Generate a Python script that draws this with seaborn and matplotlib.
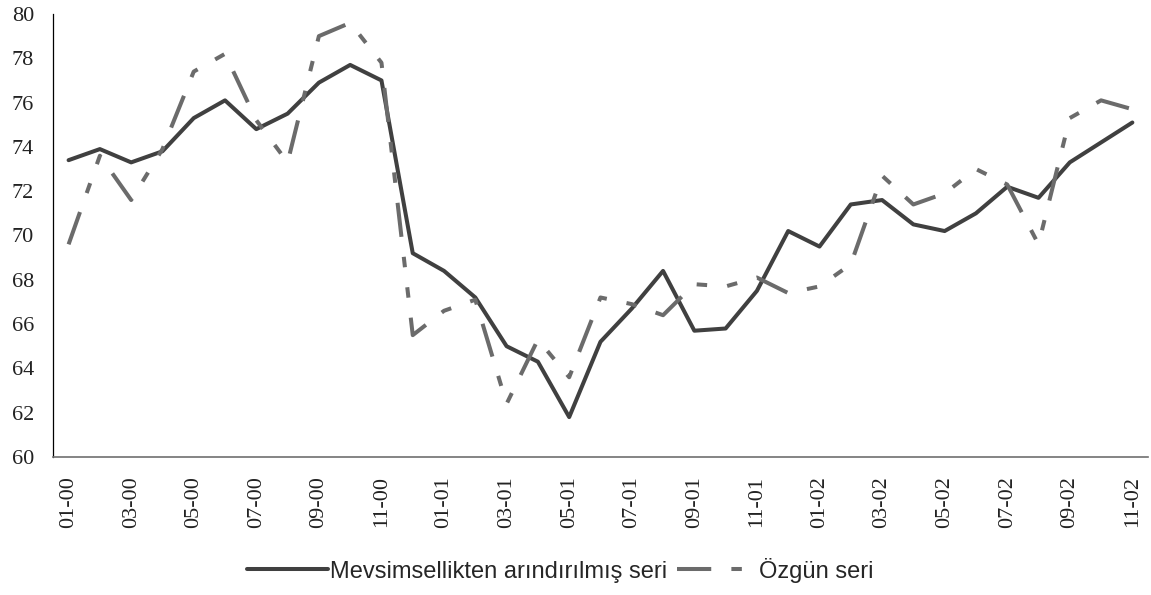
import pandas as pd
import seaborn as sns
import matplotlib
matplotlib.use('Agg')
import matplotlib.pyplot as plt

# aylar: 01-00 ... 11-02
months = ['01-00', '02-00', '03-00', '04-00', '05-00', '06-00', '07-00', '08-00', '09-00', '10-00', '11-00', '12-00',
          '01-01', '02-01', '03-01', '04-01', '05-01', '06-01', '07-01', '08-01', '09-01', '10-01', '11-01', '12-01',
          '01-02', '02-02', '03-02', '04-02', '05-02', '06-02', '07-02', '08-02', '09-02', '10-02', '11-02']

seasonal_adj = [73.4, 73.9, 73.3, 73.8, 75.3, 76.1, 74.8, 75.5, 76.9, 77.7, 77.0, 69.2,
                68.4, 67.2, 65.0, 64.3, 61.8, 65.2, 66.7, 68.4, 65.7, 65.8, 67.5, 70.2,
                69.5, 71.4, 71.6, 70.5, 70.2, 71.0, 72.2, 71.7, 73.3, 74.2, 75.1]

original = [69.6, 73.6, 71.6, 73.9, 77.4, 78.2, 75.2, 73.3, 79.0, 79.6, 77.8, 65.5,
            66.6, 67.1, 62.4, 65.3, 63.6, 67.2, 66.9, 66.4, 67.8, 67.7, 68.1, 67.4,
            67.7, 68.7, 72.7, 71.4, 71.9, 73.0, 72.3, 69.6, 75.3, 76.1, 75.7]

s1 = 'Mevsimsellikten arındırılmış seri'
s2 = 'Özgün seri'

df = pd.concat([
    pd.DataFrame({'idx': range(len(months)), 'value': seasonal_adj, 'series': s1}),
    pd.DataFrame({'idx': range(len(months)), 'value': original, 'series': s2}),
])

sns.set_style('white')
fig = plt.figure(figsize=(11.51, 5.95), dpi=100)
ax = fig.add_axes([0.046, 0.232, 0.9514, 0.7445])

sns.lineplot(data=df, x='idx', y='value', hue='series', style='series',
             hue_order=[s1, s2], style_order=[s1, s2],
             palette={s1: '#404040', s2: '#6b6b6b'},
             dashes={s1: '', s2: (8.5, 5, 2.6, 5, 2.6, 5)},
             linewidth=2.9, ax=ax, legend=False)

ax.set_xlim(-0.5, len(months) - 0.5)
ax.set_ylim(60, 80)
ax.set_yticks(range(60, 81, 2))
ax.set_xticks(range(0, len(months), 2))
ax.set_xticklabels(months[::2], rotation=90)
ax.set_xlabel('')
ax.set_ylabel('')

for lab in ax.get_xticklabels() + ax.get_yticklabels():
    lab.set_fontfamily('Liberation Serif')
    lab.set_fontsize(16)
    lab.set_color('#222222')
ax.tick_params(axis='both', length=0)
ax.tick_params(axis='y', pad=13.5)
ax.tick_params(axis='x', pad=14)

sns.despine(ax=ax)
ax.spines['left'].set_color('#000000')
ax.spines['left'].set_linewidth(0.9)
ax.spines['bottom'].set_color('#707070')
ax.spines['bottom'].set_linewidth(1.2)

handles = [plt.Line2D([], [], color='#404040', lw=2.9),
           plt.Line2D([], [], color='#6b6b6b', lw=2.9, dashes=(8.5, 5, 2.6, 5, 2.6, 5))]
fig.legend(handles, [s1, s2], loc='center', bbox_to_anchor=(0.487, 0.042), ncol=2,
           frameon=False, handlelength=3.4, handletextpad=0.1, columnspacing=0.4,
           prop={'family': 'Liberation Sans', 'size': 17})

plt.savefig('out.png', dpi=100)
